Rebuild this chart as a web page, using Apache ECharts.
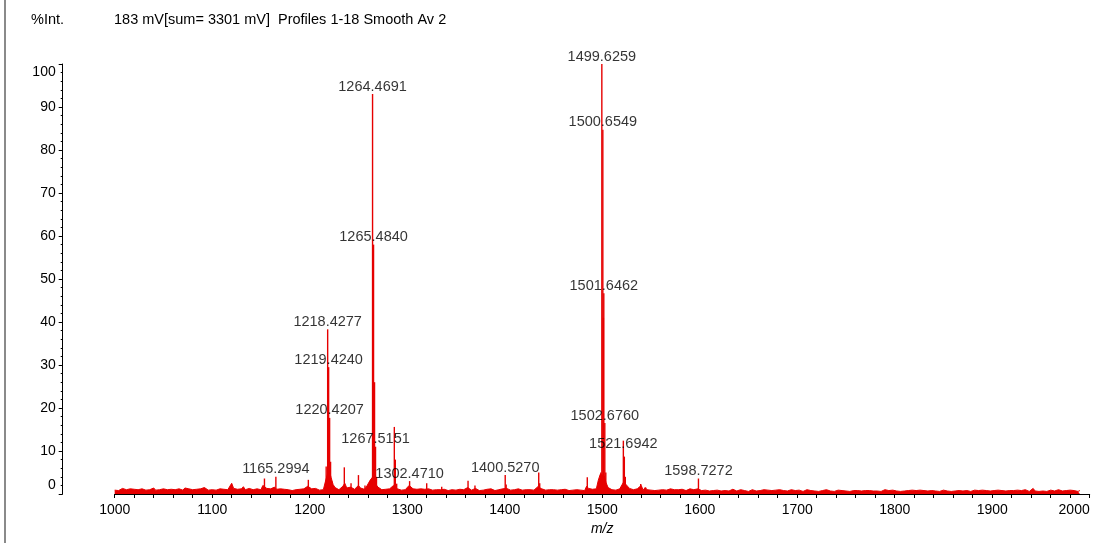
<!DOCTYPE html>
<html>
<head>
<meta charset="utf-8">
<script src="https://cdn.jsdelivr.net/npm/echarts@6/dist/echarts.min.js"></script>
<style>
  html, body { margin: 0; padding: 0; background: #ffffff; }
  #chart { width: 1097px; height: 543px; }
</style>
</head>
<body>
<div id="chart"></div>
<script>
// ---- spectrum header ----
const headerUnit = '%Int.';
const headerInfo = '183 mV[sum= 3301 mV]  Profiles 1-18 Smooth Av 2';
const xAxisName = 'm/z';

// ---- axis ranges ----
const mzRange = [1000, 2000];
const mzStep = 100;
const intRange = [0, 100];
const intStep = 10;

// ---- baseline profile (intensity %, sampled every 2 m/z from 1000) ----
const baselineStart = 1000;
const baselineStep = 2;
const baseline = [
  // 1000 - 1098
  0.9,1.2,0.8,1.1,1.3,1.6,1.0,0.9,1.2,0.8, 1.1,1.4,1.0,0.7,1.2,1.1,0.9,1.3,1.0,1.2,
  1.4,0.9,1.1,1.0,0.8,1.2,1.5,1.0,0.9,1.1, 1.3,1.0,0.8,1.2,1.1,0.9,1.4,1.0,1.2,0.8,
  1.0,1.3,1.1,0.9,1.2,1.0,1.5,1.1,0.9,1.2,
  // 1100 - 1198
  1.0,1.3,0.9,1.1,1.2,0.8,1.1,1.4,1.0,1.2, 2.5,1.3,1.0,1.1,0.9,1.2,1.7,1.0,1.1,1.3,
  1.5,1.0,0.9,1.2,1.1,1.0,2.0,2.4,1.3,1.0, 1.2,0.9,1.6,1.1,1.0,1.2,0.9,1.1,1.3,1.0,
  1.2,0.8,1.1,1.0,1.4,1.1,0.9,1.2,1.0,1.8,
  // 1200 - 1298
  1.5,1.2,1.0,1.3,1.1,0.9,1.2,1.0,2.8,4.5, 5.5,3.8,2.2,1.5,1.2,1.0,1.3,1.8,2.5,1.4,
  1.2,1.6,1.5,1.1,1.3,2.0,1.4,1.0,1.1,1.6, 2.0,3.2,3.8,2.8,2.5,1.6,1.2,1.0,1.4,1.1,
  1.0,1.2,1.1,2.0,1.8,1.2,1.0,0.9,1.1,1.0,
  // 1300 - 1398
  1.3,2.0,1.8,1.2,1.0,1.1,0.9,1.2,1.0,1.1, 1.5,1.2,1.0,0.9,1.1,1.0,1.2,1.0,0.9,1.1,
  1.0,0.8,1.1,1.0,1.2,0.9,1.0,1.1,0.8,1.0, 1.2,1.5,1.1,0.9,1.0,1.3,1.0,0.8,1.1,0.9,
  1.0,1.1,0.9,1.2,1.0,0.8,1.1,1.0,0.9,1.2,
  // 1400 - 1498
  1.6,1.3,1.0,0.9,1.1,1.0,0.8,1.2,1.0,0.9, 1.1,1.0,0.8,1.0,1.2,0.9,1.0,1.7,2.0,1.2,
  1.0,0.9,1.1,1.0,0.8,1.0,1.2,0.9,1.1,1.0, 0.9,1.1,1.0,0.8,1.0,0.9,1.1,1.0,1.2,0.9,
  1.0,0.8,1.8,1.3,1.0,1.1,0.9,1.2,3.2,4.6,
  // 1500 - 1598
  5.0,4.2,2.6,1.5,1.2,1.0,1.1,0.9,1.0,1.2, 1.0,2.8,3.0,1.8,1.3,1.1,1.0,1.4,1.2,1.0,
  2.0,0.9,1.5,1.0,1.1,0.9,1.0,0.8,1.0,0.9, 1.1,1.0,0.8,0.9,1.0,1.2,0.9,1.0,0.8,1.0,
  0.9,1.1,1.0,0.8,1.0,1.2,0.9,1.0,1.4,1.2,
  // 1600 - 1698
  1.0,0.8,0.7,0.9,0.8,0.7,1.0,0.8,0.6,0.9, 0.8,0.7,0.9,0.8,1.0,0.7,0.8,1.1,0.9,0.7,
  0.8,1.0,0.7,0.8,0.9,0.6,0.8,1.0,0.8,0.7, 0.9,0.8,0.7,1.0,0.8,0.9,0.7,0.8,0.6,0.9,
  0.8,1.0,0.7,0.8,0.9,0.7,0.8,1.0,0.7,0.8,
  // 1700 - 1798
  0.7,0.9,0.8,0.6,0.8,1.0,0.7,0.8,0.9,0.7, 0.8,0.6,0.9,0.8,0.7,1.0,0.8,0.7,0.9,0.6,
  0.8,0.9,0.7,0.8,1.1,0.7,0.8,0.6,0.9,0.8, 0.7,0.8,1.0,0.7,0.9,0.8,0.6,0.8,0.9,0.7,
  0.8,0.7,0.9,0.6,0.8,1.0,0.7,0.8,0.7,0.9,
  // 1800 - 1898
  0.8,0.7,0.9,0.6,0.8,0.7,1.0,0.8,0.6,0.9, 0.7,0.8,0.6,0.9,0.7,0.8,1.0,0.7,0.6,0.8,
  0.9,0.7,0.8,0.6,0.7,0.9,0.8,0.7,1.0,0.6, 0.8,0.7,0.9,0.8,0.6,0.7,0.9,0.8,0.7,0.6,
  0.8,0.9,0.7,0.8,0.6,0.9,0.7,0.8,1.0,0.7,
  // 1900 - 1990
  0.7,0.8,0.6,0.9,0.7,0.8,0.6,0.7,0.9,0.8, 0.6,0.8,0.7,0.9,0.6,0.8,0.7,1.0,0.7,0.6,
  0.8,1.3,0.7,0.8,0.6,0.9,0.7,0.8,0.6,0.7, 0.9,0.8,0.7,0.6,1.0,0.8,0.7,0.6,0.8,0.7,
  0.9,0.6,0.8,0.7,0.6,0.8
];

// ---- centroid peaks (m/z, intensity %) ----
const peakMz = [
  1153.6, 1165.2994, 1198.6, 1216.9, 1218.4277, 1219.4240, 1220.4207, 1221.4, 1222.4,
  1235.5, 1242.4, 1250.0, 1256.7, 1262.5, 1264.4691, 1265.0, 1265.4840, 1266.5, 1267.5151, 1268.5,
  1286.8, 1287.8, 1289.2, 1302.4710, 1320.0, 1335.4, 1362.4, 1369.5,
  1400.5270, 1401.5, 1434.9, 1435.9, 1484.7, 1498.6,
  1499.6259, 1500.6549, 1501.2, 1501.6462, 1502.6760, 1503.7,
  1521.6942, 1522.7, 1523.7, 1539.5, 1544.6, 1598.7272
];
const peakInt = [
  3.6, 4.0, 3.3, 6.4, 38.3, 29.5, 17.7, 7.5, 3.0,
  6.2, 2.5, 4.4, 2.0, 3.3, 93.0, 54.8, 58.0, 26.0, 11.0, 4.0,
  15.6, 8.0, 2.4, 3.0, 2.5, 1.7, 3.1, 2.0,
  4.4, 2.2, 5.0, 2.5, 3.9, 5.0,
  100.0, 84.7, 41.0, 46.7, 16.5, 5.0,
  12.4, 8.7, 4.0, 2.3, 1.5, 3.6
];

// ---- annotated peaks ----
const labeledMz = [
  1165.2994, 1218.4277, 1219.4240, 1220.4207, 1264.4691, 1265.4840, 1267.5151,
  1302.4710, 1400.5270, 1499.6259, 1500.6549, 1501.6462, 1502.6760, 1521.6942, 1598.7272
];

const RED = '#e60000';
const FONT = '"Liberation Sans", Arial, sans-serif';
const TEXT = '#000000';

const baselineData = baseline.map((v, i) => [baselineStart + i * baselineStep, v]);
const stickData = peakMz.map((m, i) => [m, peakInt[i]]);

// one label was shifted down by the acquisition software to clear its neighbour
const labelShift = { 1521.6942: [0, 11] };
const labelData = labeledMz.map(m => {
  const item = { value: [m, peakInt[peakMz.indexOf(m)]] };
  if (labelShift[m]) item.label = { offset: labelShift[m] };
  return item;
});

const chart = echarts.init(document.getElementById('chart'), null, { renderer: 'canvas' });

chart.setOption({
  animation: false,
  backgroundColor: '#ffffff',
  textStyle: { fontFamily: FONT },
  grid: { left: 114.7, right: 7.3, top: 64, bottom: 49, containLabel: false, outerBoundsMode: 'none' },
  graphic: [
    { type: 'line', shape: { x1: 5, y1: 0, x2: 5, y2: 543 }, style: { stroke: '#8a8a8a', lineWidth: 2 } },
    { type: 'text', left: 31, top: 12, style: { text: headerUnit, font: '14.5px ' + FONT, fill: TEXT } },
    { type: 'text', left: 114, top: 12, style: { text: headerInfo, font: '14.5px ' + FONT, fill: TEXT } }
  ],
  xAxis: {
    type: 'value',
    min: mzRange[0], max: mzRange[1], interval: mzStep,
    name: xAxisName, nameLocation: 'middle', nameGap: 27,
    nameTextStyle: { fontStyle: 'italic', fontSize: 14, color: TEXT, fontFamily: FONT },
    axisLine: { lineStyle: { color: '#000', width: 1 } },
    axisTick: { length: 4, lineStyle: { color: '#000' } },
    minorTick: { show: true, splitNumber: 5, length: 4, lineStyle: { color: '#000' } },
    axisLabel: {
      margin: 9, fontSize: 14, color: TEXT, fontFamily: FONT,
      alignMaxLabel: 'right',
      formatter: v => String(v)
    },
    splitLine: { show: false }
  },
  yAxis: {
    type: 'value',
    min: intRange[0], max: intRange[1], interval: intStep,
    offset: 52,
    axisLine: { show: true, lineStyle: { color: '#000', width: 1 } },
    axisTick: { show: true, length: 4, lineStyle: { color: '#000' } },
    minorTick: { show: true, splitNumber: 5, length: 2, lineStyle: { color: '#000' } },
    axisLabel: {
      margin: 7, fontSize: 14, color: TEXT, fontFamily: FONT,
      formatter: v => v === intRange[1] ? '{hi|' + v + '}' : v === intRange[0] ? '{lo|' + v + '}' : String(v),
      rich: {
        hi: { fontSize: 14, color: TEXT, fontFamily: FONT, padding: [16, 0, 0, 0] },
        lo: { fontSize: 14, color: TEXT, fontFamily: FONT, padding: [0, 0, 18, 0] }
      }
    },
    splitLine: { show: false }
  },
  series: [
    {
      name: 'baseline',
      type: 'line',
      data: baselineData,
      symbol: 'none',
      sampling: false,
      lineStyle: { color: RED, width: 1 },
      areaStyle: { color: RED, opacity: 1 },
      z: 2
    },
    {
      name: 'peaks',
      type: 'custom',
      data: stickData,
      encode: { x: 0, y: 1 },
      renderItem: (params, api) => {
        const b = api.coord([api.value(0), 0]);
        const t = api.coord([api.value(0), api.value(1)]);
        return {
          type: 'line',
          shape: { x1: b[0], y1: b[1], x2: t[0], y2: t[1] },
          style: { stroke: RED, lineWidth: 1.4 }
        };
      },
      z: 3
    },
    {
      name: 'annotations',
      type: 'scatter',
      data: labelData,
      symbolSize: 0,
      silent: true,
      label: {
        show: true, position: 'top', distance: 0,
        fontSize: 14.5, color: TEXT, fontFamily: FONT,
        formatter: p => p.value[0].toFixed(4)
      },
      z: 4
    }
  ]
});
</script>
</body>
</html>
